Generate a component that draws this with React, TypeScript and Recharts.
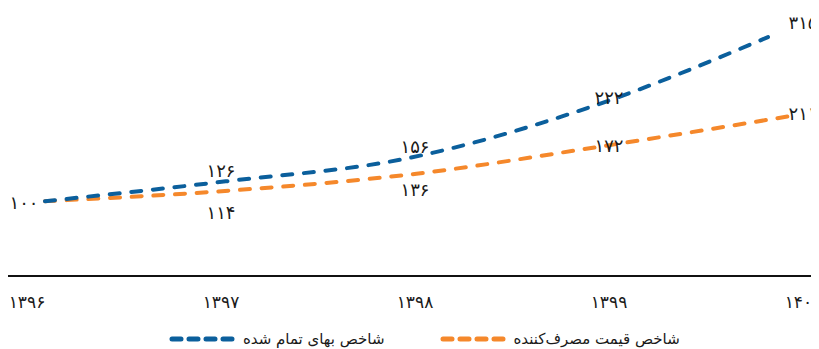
import React from 'react';
import { LineChart, Line, XAxis, YAxis, LabelList } from 'recharts';

const years = [1396, 1397, 1398, 1399, 1400];
const yearLabels = ['۱۳۹۶', '۱۳۹۷', '۱۳۹۸', '۱۳۹۹', '۱۴۰۰'];
const builtCostIndex = [100, 126, 156, 222, 315];
const consumerPriceIndex = [100, 114, 136, 172, 211];
const builtCostName = 'شاخص بهای تمام شده';
const cpiName = 'شاخص قیمت مصرف‌کننده';

const BLUE = '#0b5f9c';
const ORANGE = '#f5882b';
const FONT = '"DejaVu Sans", sans-serif';

// label vertical offsets (styling, px)
const blueLabelDy = [1, -11, -12, -11, -15];
const orangeLabelDy = [null, 22, 16, -1, -3];

const data = years.map((y, i) => ({ year: y, blue: builtCostIndex[i], orange: consumerPriceIndex[i] }));

const toFa = (n: number) => String(n).replace(/[0-9]/g, (d) => '۰۱۲۳۴۵۶۷۸۹'[Number(d)]);

const makeLabel = (dys: (number | null)[], dxFirst: number) => (props: any) => {
  const idx = props.index;
  const dy = dys[idx];
  if (dy === null || dy === undefined) return null;
  const x = props.x ?? props.viewBox?.x;
  const y = props.y ?? props.viewBox?.y;
  return (
    <text
      x={x + (idx === 0 ? dxFirst : 0)}
      y={y + dy}
      textAnchor="middle"
      dominantBaseline="central"
      fontSize={18}
      fontFamily={FONT}
      fill="#1a1a1a"
    >
      {toFa(props.value)}
    </text>
  );
};

const Swatch = ({ color }: { color: string }) => (
  <svg width={67} height={8} style={{ display: 'block' }}>
    <line x1={3} y1={4} x2={64} y2={4} stroke={color} strokeWidth={5} strokeLinecap="round" strokeDasharray="9 8" />
  </svg>
);

export default function App() {
  return (
    <div style={{ position: 'relative', width: 811, height: 341, fontFamily: FONT }}>
      <LineChart width={811} height={341} data={data} margin={{ top: 10, right: 0, bottom: 28, left: 0 }}>
        <YAxis yAxisId="y" hide type="number" domain={[2, 340]} />
        <XAxis
          xAxisId="main"
          dataKey="year"
          type="number"
          domain={[1396, 1400]}
          ticks={years}
          interval={0}
          padding={{ left: 19, right: 16 }}
          height={45}
          tickLine={false}
          tickSize={0}
          tickMargin={20}
          axisLine={{ stroke: '#111', strokeWidth: 2 }}
          tick={{ fontSize: 17, fill: '#1a1a1a', fontFamily: FONT }}
          tickFormatter={(v: number) => yearLabels[years.indexOf(v)]}
        />
        <XAxis xAxisId="b" orientation="top" height={0} dataKey="year" type="number" domain={[1396, 1400]} hide padding={{ left: 37, right: 51 }} />
        <XAxis xAxisId="o" orientation="top" height={0} dataKey="year" type="number" domain={[1396, 1400]} hide padding={{ left: 37, right: 31 }} />
        <Line
          xAxisId="o"
          yAxisId="y"
          type="monotone"
          dataKey="orange"
          stroke={ORANGE}
          strokeWidth={4}
          strokeDasharray="10 11.7"
          strokeLinecap="round"
          dot={false}
          activeDot={false}
          isAnimationActive={false}
        />
        <Line
          xAxisId="b"
          yAxisId="y"
          type="monotone"
          dataKey="blue"
          stroke={BLUE}
          strokeWidth={4}
          strokeDasharray="10 11.7"
          strokeLinecap="round"
          dot={false}
          activeDot={false}
          isAnimationActive={false}
        />
        <Line
          xAxisId="main"
          yAxisId="y"
          dataKey="blue"
          stroke="none"
          strokeOpacity={0}
          dot={false}
          activeDot={false}
          isAnimationActive={false}
        >
          <LabelList dataKey="blue" content={makeLabel(blueLabelDy, -3)} />
        </Line>
        <Line
          xAxisId="main"
          yAxisId="y"
          dataKey="orange"
          stroke="none"
          strokeOpacity={0}
          dot={false}
          activeDot={false}
          isAnimationActive={false}
        >
          <LabelList dataKey="orange" content={makeLabel(orangeLabelDy, 0)} />
        </Line>
      </LineChart>
      <div
        style={{
          position: 'absolute',
          left: 161,
          top: 322,
          display: 'flex',
          direction: 'rtl',
          alignItems: 'center',
          fontSize: 15,
          color: '#1a1a1a',
          whiteSpace: 'nowrap',
        }}
      >
        <div style={{ display: 'flex', alignItems: 'center', gap: 7, marginLeft: 55 }}>
          <span>{cpiName}</span>
          <Swatch color={ORANGE} />
        </div>
        <div style={{ display: 'flex', alignItems: 'center', gap: 7 }}>
          <span>{builtCostName}</span>
          <Swatch color={BLUE} />
        </div>
      </div>
    </div>
  );
}
